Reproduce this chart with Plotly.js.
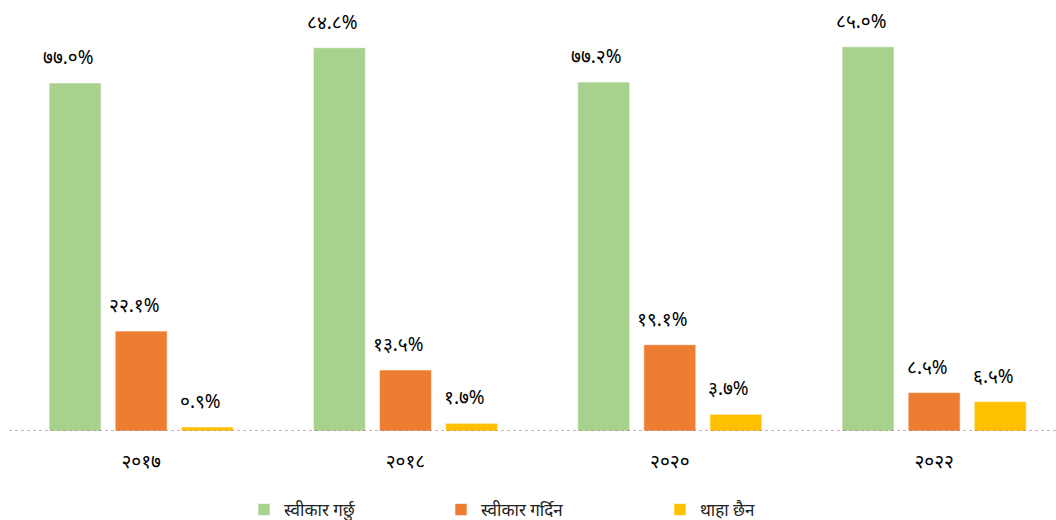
<!DOCTYPE html>
<html>
<head>
<meta charset="utf-8">
<script src="https://cdn.plot.ly/plotly-3.0.1.min.js"></script>
<style>html,body{margin:0;padding:0;background:#fff;}#chart{width:1056px;height:520px;}</style>
</head>
<body>
<div id="chart"></div>
<script>
const years = ['२०१७', '२०१८', '२०२०', '२०२२'];
const seriesNames = ['स्वीकार गर्छु', 'स्वीकार गर्दिन', 'थाहा छैन'];
const accept = [77.0, 84.8, 77.2, 85.0];
const reject = [22.1, 13.5, 19.1, 8.5];
const unknown = [0.9, 1.7, 3.7, 6.5];
const acceptLabels = ['७७.०%', '८४.८%', '७७.२%', '८५.०%'];
const rejectLabels = ['२२.१%', '१३.५%', '१९.१%', '८.५%'];
const unknownLabels = ['०.९%', '१.७%', '३.७%', '६.५%'];

const colors = ['#A9D18E', '#ED7D31', '#FFC000'];
const allValues = [accept, reject, unknown];
const allLabels = [acceptLabels, rejectLabels, unknownLabels];
const legendKeys = ['legend', 'legend2', 'legend3'];
const font = 'Noto Sans, DejaVu Sans, sans-serif';

const traces = allValues.map((vals, i) => ({
  type: 'bar',
  name: seriesNames[i],
  x: years,
  y: vals,
  marker: {color: colors[i], line: {color: 'rgba(255,255,255,0.6)', width: 1}},
  legend: legendKeys[i],
  hoverinfo: 'skip'
}));

// value labels placed above each bar, from the data arrays
const annotations = [];
const offsets = [-1, 0, 1];
allValues.forEach((vals, i) => {
  vals.forEach((v, j) => {
    annotations.push({
      x: j, y: v, xref: 'x', yref: 'y',
      text: allLabels[i][j],
      showarrow: false,
      xanchor: 'center', yanchor: 'bottom',
      xshift: offsets[i] * 66.1 - 7, yshift: 11,
      font: {family: font, size: 19, color: '#000'}
    });
  });
});

const legendBase = {orientation: 'h', yanchor: 'middle', xanchor: 'left',
  yref: 'container', y: (520 - 510) / 520,
  font: {family: font, size: 17, color: '#222'}, bgcolor: 'rgba(0,0,0,0)'};

const layout = {
  width: 1056, height: 520,
  margin: {l: 9, r: 0, t: 0, b: 89, autoexpand: false},
  paper_bgcolor: '#fff', plot_bgcolor: '#fff',
  barmode: 'group',
  bargap: 0.25,
  bargroupgap: 0.213,
  showlegend: true,
  legend: Object.assign({}, legendBase, {x: (244 - 9) / 1047}),
  legend2: Object.assign({}, legendBase, {x: (441 - 9) / 1047}),
  legend3: Object.assign({}, legendBase, {x: (660 - 9) / 1047}),
  xaxis: {
    range: [-0.5, 3.461], showgrid: false, zeroline: false, showline: false,
    ticks: '', ticklabelstandoff: 17,
    tickfont: {family: font, size: 19, color: '#000'}, fixedrange: true
  },
  yaxis: {
    range: [0, 95.35], visible: false, showgrid: false, zeroline: false, fixedrange: true
  },
  shapes: [{
    type: 'line', xref: 'paper', yref: 'y', x0: 0, x1: 1, y0: 0, y1: 0,
    line: {color: '#A0606E', width: 1, dash: 'dot'}
  }],
  annotations: annotations
};

Plotly.newPlot('chart', traces, layout, {displayModeBar: false, staticPlot: true});
</script>
</body>
</html>
